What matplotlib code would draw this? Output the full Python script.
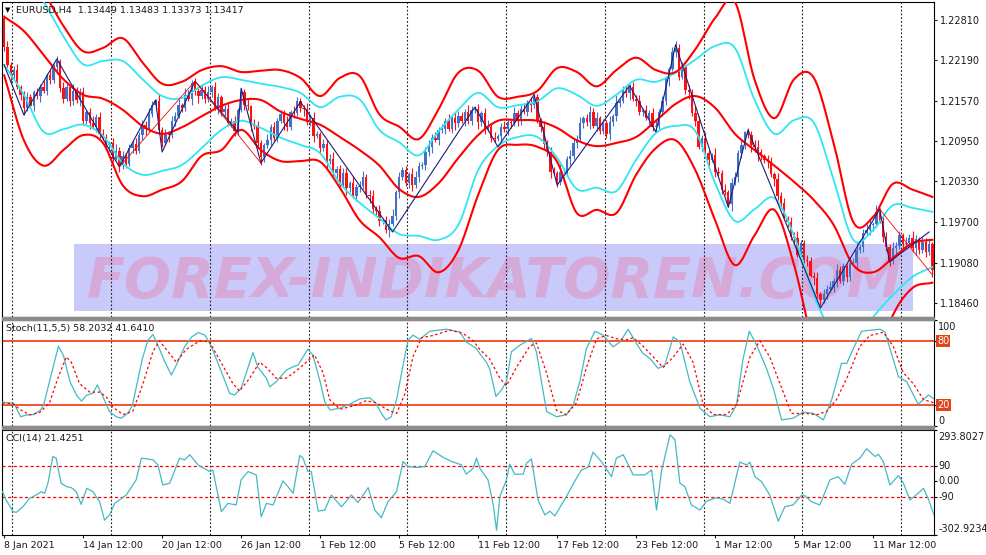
import numpy as np
import matplotlib
matplotlib.use("Agg")
import matplotlib.pyplot as plt
from matplotlib.patches import Rectangle

W, H = 987, 555

# ---- price data (EURUSD H4), closes in pips above 1.18 ----
BASE = 1.18
first_open_pips = 484
close_pips = [
    440, 412, 396, 404, 378, 366, 346, 362, 348, 370,
    364, 378, 372, 396, 388, 408, 418, 376, 360, 378,
    356, 372, 358, 370, 326, 340, 322, 316, 332, 306,
    300, 288, 292, 268, 280, 258, 272, 260, 284, 290,
    280, 304, 320, 314, 336, 350, 356, 312, 292, 306,
    304, 326, 334, 350, 346, 366, 360, 384, 372, 364,
    374, 360, 370, 378, 346, 362, 340, 344, 322, 326,
    310, 342, 370, 350, 348, 320, 318, 292, 270, 288,
    296, 316, 300, 326, 336, 322, 316, 340, 338, 356,
    346, 344, 324, 330, 302, 306, 284, 290, 264, 268,
    246, 252, 228, 246, 222, 230, 210, 224, 226, 240,
    212, 210, 190, 188, 172, 174, 158, 168, 180, 216,
    240, 250, 230, 244, 228, 240, 256, 258, 278, 286,
    300, 296, 312, 314, 326, 314, 330, 322, 334, 326,
    340, 326, 342, 344, 324, 338, 314, 316, 300, 298,
    302, 316, 314, 324, 322, 338, 326, 344, 340, 354,
    350, 362, 326, 316, 290, 278, 248, 246, 232, 248,
    248, 268, 272, 292, 298, 322, 330, 324, 340, 318,
    330, 310, 322, 306, 324, 334, 354, 356, 372, 368,
    378, 360, 356, 340, 342, 330, 338, 316, 318, 340,
    356, 390, 406, 432, 438, 394, 408, 374, 370, 338,
    326, 286, 300, 276, 266, 274, 248, 246, 220, 216,
    198, 230, 240, 276, 288, 308, 304, 288, 286, 278,
    272, 266, 262, 244, 236, 210, 200, 176, 170, 148,
    146, 120, 138, 112, 110, 88, 84, 60, 50, 60,
    68, 70, 80, 96, 80, 102, 86, 108, 108, 128,
    132, 154, 158, 166, 168, 186, 172, 148, 132, 110,
    130, 134, 150, 136, 138, 146, 130, 144, 128, 140,
    124, 136, 96]
wick_hi = [
    5, 8, 4, 7, 10, 3, 6, 9, 5, 4, 7, 5, 10, 4, 8, 6, 7, 3, 9, 5,
    4, 10, 6, 7, 8, 3, 5, 11, 4, 7, 8, 5, 3, 7, 10, 5, 8, 4, 7, 6,
    10, 4, 7, 5, 9, 6, 3, 11, 5, 8, 4, 7, 5, 9, 3, 10, 7, 5, 8, 4,
    7, 5, 10, 3, 8, 6, 4, 7, 11, 5, 8, 4, 7, 5, 10, 3, 9, 7, 5, 4,
    10, 5, 8, 4, 7, 6, 11, 3, 8, 7, 5, 4, 9, 7, 10, 5, 3, 8, 6, 7,
    10, 4, 6, 8, 7, 3, 11, 5, 7, 9, 4, 7, 10, 5, 8, 3, 6, 7, 10, 4,
    8, 5, 7, 3, 10, 9, 6, 4, 7, 11, 5, 8, 4, 7, 5, 10, 3, 9, 7, 6,
    4, 10, 7, 5, 8, 3, 7, 11, 5, 8, 4, 6, 10, 7, 3, 9, 5, 7, 10, 4,
    8, 7, 5, 4, 10, 6, 8, 7, 3, 11, 5, 4, 9, 7, 6, 10, 3, 7, 8, 5,
    10, 4, 7, 5, 9, 3, 11, 5, 7, 8, 4, 7, 6, 10, 3, 8, 5, 7, 11, 4,
    8, 5, 3, 7, 10, 6, 9, 4, 7, 5, 11, 7, 4, 8, 5, 3, 10, 7, 5, 9,
    4, 8, 7, 5, 10, 3, 7, 6, 8, 11, 5, 3, 7, 9, 4, 10, 6, 7, 3, 8,
    7, 11, 5, 4, 8, 7, 6, 10, 3, 7, 5, 9, 4, 10, 7, 5, 3, 8, 7, 11,
    4, 5, 9, 7, 3, 10, 6, 8, 7, 4, 10, 5, 7, 3, 9, 6, 11, 7, 4, 8,
    5, 7, 4]
wick_lo = [
    7, 4, 10, 5, 3, 8, 11, 5, 4, 7, 5, 9, 3, 7, 6, 4, 10, 5, 7, 3,
    8, 5, 4, 10, 7, 5, 8, 3, 7, 6, 4, 7, 9, 5, 3, 10, 6, 7, 4, 8,
    5, 3, 7, 10, 6, 4, 8, 5, 7, 3, 10, 5, 8, 4, 7, 5, 3, 9, 6, 10,
    4, 7, 5, 8, 3, 10, 6, 7, 4, 5, 8, 6, 3, 7, 5, 10, 4, 8, 12, 7,
    4, 8, 5, 7, 3, 10, 6, 4, 8, 5, 7, 10, 4, 6, 8, 3, 7, 5, 10, 4,
    5, 8, 7, 4, 10, 6, 3, 8, 7, 5, 4, 10, 6, 7, 8, 4, 5, 11, 4, 7,
    8, 5, 4, 7, 10, 5, 8, 4, 7, 6, 10, 3, 7, 5, 9, 4, 7, 10, 5, 3,
    8, 5, 7, 4, 10, 6, 8, 3, 7, 5, 3, 8, 5, 10, 7, 4, 8, 6, 3, 7,
    10, 5, 3, 8, 7, 6, 10, 4, 8, 5, 3, 7, 10, 5, 8, 4, 7, 6, 10, 3,
    8, 5, 4, 7, 10, 6, 8, 7, 3, 5, 10, 4, 8, 5, 7, 3, 10, 6, 8, 4,
    7, 5, 10, 4, 8, 6, 3, 7, 10, 5, 8, 4, 7, 5, 10, 3, 8, 5, 7, 4,
    5, 10, 3, 8, 7, 5, 4, 10, 8, 14, 7, 5, 8, 4, 10, 6, 7, 3, 8, 5,
    10, 4, 7, 5, 8, 3, 10, 6, 7, 4, 8, 5, 7, 10, 3, 6, 8, 7, 4, 10,
    5, 8, 4, 7, 10, 5, 3, 8, 6, 7, 4, 10, 5, 8, 7, 3, 6, 10, 7, 5,
    7, 4, 10]

# ---- envelope bands, one value per trading day (every 6 bars) ----
band_step = 6
upper_red = [1.2404, 1.2366, 1.2324, 1.2272, 1.2233, 1.2238, 1.2253, 1.2216, 1.2183, 1.2186,
             1.2204, 1.2210, 1.2201, 1.2203, 1.2204, 1.2192, 1.2164, 1.2192, 1.2195, 1.2136,
             1.2117, 1.2098, 1.2144, 1.2200, 1.2203, 1.2163, 1.2163, 1.2172, 1.2207, 1.2201,
             1.2179, 1.2204, 1.2223, 1.2204, 1.2201, 1.2236, 1.2284, 1.2309, 1.2189, 1.2130,
             1.2190, 1.2192, 1.2092, 1.1970, 1.1978, 1.2029, 1.2020, 1.2009]
upper_cyan = [1.2381, 1.2350, 1.2309, 1.2256, 1.2213, 1.2218, 1.2218, 1.2190, 1.2164, 1.2161,
              1.2180, 1.2193, 1.2189, 1.2183, 1.2178, 1.2169, 1.2147, 1.2163, 1.2159, 1.2112,
              1.2093, 1.2073, 1.2110, 1.2143, 1.2169, 1.2147, 1.2150, 1.2156, 1.2176, 1.2166,
              1.2149, 1.2166, 1.2189, 1.2186, 1.2200, 1.2220, 1.2241, 1.2238, 1.2158, 1.2106,
              1.2127, 1.2123, 1.2035, 1.1943, 1.1958, 1.1996, 1.1992, 1.1986]
middle_red = [1.2286, 1.2264, 1.2227, 1.2190, 1.2166, 1.2160, 1.2143, 1.2118, 1.2106, 1.2116,
              1.2133, 1.2149, 1.2158, 1.2158, 1.2140, 1.2129, 1.2120, 1.2101, 1.2081, 1.2057,
              1.2021, 1.2009, 1.2030, 1.2069, 1.2104, 1.2126, 1.2127, 1.2126, 1.2115, 1.2096,
              1.2087, 1.2092, 1.2101, 1.2126, 1.2152, 1.2164, 1.2146, 1.2106, 1.2081, 1.2057,
              1.2032, 1.2004, 1.1966, 1.1904, 1.1893, 1.1915, 1.1938, 1.1943]
lower_cyan = [1.2212, 1.2166, 1.2109, 1.2113, 1.2120, 1.2103, 1.2061, 1.2043, 1.2049, 1.2058,
              1.2084, 1.2112, 1.2126, 1.2115, 1.2100, 1.2089, 1.2076, 1.2030, 1.2000, 1.1976,
              1.1952, 1.1949, 1.1943, 1.1966, 1.2050, 1.2087, 1.2101, 1.2101, 1.2069, 1.2021,
              1.2023, 1.2018, 1.2066, 1.2107, 1.2118, 1.2110, 1.2030, 1.1972, 1.1990, 1.2007,
              1.1949, 1.1858, 1.1797, 1.1781, 1.1824, 1.1858, 1.1886, 1.1901]
lower_red = [1.2196, 1.2096, 1.2057, 1.2081, 1.2104, 1.2092, 1.2027, 1.2010, 1.2020, 1.2033,
             1.2072, 1.2081, 1.2112, 1.2081, 1.2064, 1.2064, 1.2063, 1.2023, 1.1973, 1.1947,
             1.1915, 1.1918, 1.1893, 1.1927, 1.2012, 1.2081, 1.2089, 1.2086, 1.2063, 1.1984,
             1.1989, 1.1984, 1.2043, 1.2084, 1.2096, 1.2050, 1.1973, 1.1904, 1.1950, 1.1989,
             1.1904, 1.1781, 1.1728, 1.1720, 1.1743, 1.1827, 1.1869, 1.1877]

# zigzag swing points (bar, pips above 1.18)
zz_blue = [(0, 412), (6, 335), (16, 421), (35, 255), (46, 358), (48, 278), (58, 387),
           (71, 309), (72, 376), (78, 261), (90, 355), (118, 155), (143, 347), (150, 286),
           (161, 366), (168, 227), (190, 380), (198, 309), (204, 443), (220, 193),
           (226, 312), (248, 38), (266, 190), (269, 109), (281, 155)]
zz_red = [[(35, 255), (58, 387), (78, 261)], [(266, 190), (282, 89)]]

# ---- Stochastic (11,5,5): (bar, value) ----
stoch_main = [(-0.5, 22.5), (3, 21.5), (5, 9), (7, 10.7), (9, 11), (11, 15), (12, 20), (15, 57),
              (16.5, 75), (18, 66.6), (20, 41.8), (22, 29), (23.5, 23.7), (25, 29), (27, 31),
              (28.3, 38.6), (30, 27.8), (32, 13.8), (34, 9), (35.6, 7.6), (37.6, 12.2), (39, 20),
              (42, 63.5), (43.7, 80.6), (45.2, 85.9), (46.7, 76), (48.8, 60.4), (50.8, 48),
              (52.3, 57.3), (54.8, 74.4), (57, 83.7), (59, 87.8), (61, 85.3), (63, 74.4),
              (66, 51), (68.5, 30.9), (70, 29.3), (72, 35.5), (75.6, 69), (77, 55.7),
              (79.7, 44.9), (80.7, 37), (82.7, 41.8), (85.7, 52.6), (87.8, 55.7), (89.3, 57.3),
              (90.8, 65), (92.3, 72.2), (93.8, 66.6), (96, 41.8), (97.4, 23), (99, 15.3),
              (102, 16.9), (105.5, 21.5), (108, 25.6), (111, 26.8), (113, 21.5), (114.6, 12.2),
              (116, 6), (117.6, 9), (119.2, 24.7), (121.2, 57.3), (122.7, 80.6), (124.2, 85.3),
              (126.3, 81.5), (129.3, 89), (134.4, 90.9), (138.4, 88.4), (140.4, 79),
              (143.5, 72.8), (144.5, 68), (146.5, 60), (147.5, 54), (149.4, 28), (151.1, 34),
              (152.6, 41.8), (154.1, 69.7), (156.7, 76), (160.2, 82.2), (161.7, 69.7),
              (164.8, 13.8), (167.8, 9), (170.8, 10.7), (172.9, 20), (174.9, 41.8),
              (176.9, 72.8), (179.5, 89), (182, 85.3), (185, 74.4), (187.1, 79), (189.6, 90.9),
              (192.1, 77.5), (194.1, 68.2), (196.2, 63.5), (198.7, 54.2), (200.7, 57.3),
              (203.3, 83.7), (205.3, 79), (208.3, 41.8), (211.4, 16.9), (214.4, 9),
              (217.4, 10.7), (220.5, 9), (222.5, 20), (224.5, 63.5), (226.4, 89), (228.6, 76),
              (231.6, 54.2), (233.7, 35.5), (236.2, 6), (239.7, 7.6), (242.8, 13.2),
              (245.8, 12.2), (248.9, 6), (251.4, 24.7), (254.4, 58.9), (256, 58.9),
              (258, 72.8), (260.5, 89), (263, 89.9), (266.1, 90.9), (267.6, 88.4),
              (271.7, 46.4), (274.2, 41.8), (277.7, 20.6), (280.8, 29.3), (282.5, 25.6)]
stoch_signal = [(-0.5, 22), (2.7, 21), (4.7, 16), (7.7, 10.7), (10.8, 13), (13.8, 22), (16.3, 45),
                (18.9, 65), (20.4, 60), (22.9, 40), (26, 32), (29, 32), (31, 27.8), (33, 18),
                (36.1, 11), (39.1, 14), (42.2, 40), (45.2, 70), (47.2, 80), (50.3, 68),
                (52.3, 60), (55.3, 72), (59.4, 80), (62.4, 79), (65.5, 62), (69.5, 40),
                (71.5, 33), (74.6, 45), (77.6, 60), (79.7, 55), (82.7, 45), (85.7, 45),
                (88.8, 52), (91.8, 60), (94.3, 67), (96.9, 50), (98.9, 25), (102, 16),
                (106, 19), (110, 24), (113.1, 22), (116.1, 16), (119.2, 12), (121.7, 30),
                (124.2, 65), (126.8, 83), (130.3, 85), (135.4, 90), (139.4, 87), (142.5, 80),
                (144.5, 72), (147.5, 63), (150.6, 45), (152.6, 38), (155.6, 55), (159.7, 75),
                (161.7, 78), (164.8, 50), (167.8, 15), (170.8, 11), (173.9, 22), (176.9, 55),
                (180, 82), (183, 85), (186, 82), (189.1, 81), (191.1, 83), (194.1, 75),
                (197.2, 65), (200.2, 55), (203.3, 65), (206.3, 77), (209.3, 60), (212.4, 20),
                (215.4, 11), (219.5, 11), (222.5, 20), (226.6, 65), (229.6, 80), (232.6, 65),
                (235.7, 40), (239.2, 12), (243.8, 12), (246.8, 10.7), (249.9, 14), (252.9, 25),
                (256, 45), (260, 75), (263, 85), (267.1, 88), (270.1, 75), (273.2, 50),
                (276.2, 40), (279.3, 25), (282.5, 22)]

# ---- CCI(14): (bar, value) ----
cci = [(-0.5, -58), (0.6, -105), (2.7, -171), (3.7, -175), (5.7, -143), (7.7, -96), (9.7, -77),
       (11.3, -58), (12.3, -67), (13.3, -10), (14.8, 141), (15.8, 132), (17.3, -10), (18.9, -29),
       (20.4, -35), (21.9, -58), (23.4, -130), (25.1, -39), (27, -58), (29, -115), (30.5, -219),
       (32, -190), (33.6, -124), (37.1, -77), (40.1, 9), (41.7, 132), (45.2, 122), (46.7, 94),
       (48.2, -20), (50.3, -10), (53.3, 132), (54.8, 122), (56.4, 151), (58.9, 94), (62.4, 56),
       (63.4, 65), (66, -171), (68, -124), (70.5, -133), (72, 9), (74.1, 56), (76.6, 37),
       (78.1, -200), (79.7, -124), (81.7, -133), (84.7, 3), (86.2, -29), (87.8, -67),
       (89.8, 147), (90.8, 132), (92.3, 56), (93.3, 56), (95.4, -168), (97.4, -162),
       (99.4, -77), (102.5, -143), (105.5, -77), (107.5, -119), (110.6, -35), (112.6, -162),
       (114.6, -205), (116.6, -115), (119.2, -58), (121.2, 113), (122.7, 84), (125.3, 79),
       (127.8, 84), (130.3, 173), (133.4, 136), (135.9, 113), (138.9, 94), (140.4, 41),
       (142.5, 75), (143.5, 132), (144.5, 75), (147, 9), (148.6, -133), (149.6, -276),
       (150.6, -86), (152.6, 9), (153.6, 98), (155.1, 41), (157.7, 41), (158.7, 103),
       (160.2, 128), (162.2, -105), (164.3, -190), (165.8, -168), (167.3, -195), (170.8, -86),
       (173.4, 3), (175.4, 65), (177.4, 80), (178.9, 166), (181, 122), (182.5, 84), (184.5, 27),
       (186, 132), (188.1, 151), (191.1, 37), (194.7, 37), (196.7, 65), (198.2, -162),
       (199.7, 56), (202.3, 264), (203.8, 236), (205.3, -10), (206.8, -29), (208.8, -133),
       (211.4, -162), (213.4, -111), (216.4, -92), (218.5, -100), (220.5, -124), (223.5, 109),
       (225.6, 94), (226.6, 109), (228.1, 27), (230.1, -1), (232.6, -77), (235.2, -225),
       (237.2, -143), (239.7, -133), (242.3, -77), (243.3, -81), (245.3, -115), (247.8, -133),
       (250.9, 9), (253.4, 27), (255.4, -16), (257.5, 98), (260, 132), (262, 185), (264.6, 141),
       (265.6, 154), (267.1, 113), (269.1, -20), (271.7, 33), (273.2, -10), (275.2, -105),
       (277.7, -67), (279.3, -39), (280.8, -100), (282.5, -190)]
cci_max, cci_min = 293.8027, -302.9234

price_ticks = [1.22810, 1.22190, 1.21570, 1.20950, 1.20330, 1.19700, 1.19080, 1.18460]
date_labels = ['8 Jan 2021', '14 Jan 12:00', '20 Jan 12:00', '26 Jan 12:00', '1 Feb 12:00',
               '5 Feb 12:00', '11 Feb 12:00', '17 Feb 12:00', '23 Feb 12:00', '1 Mar 12:00',
               '5 Mar 12:00', '11 Mar 12:00']
bars_per_label = 24
grid_bars = [2.5, 32.5, 62.5, 92.5, 122.5, 152.5, 182.5, 212.5, 242.5, 272.5]

# ---- colours ----
BULL = '#4272c8'
BEAR = '#ff1010'
RED = '#ff0000'
CYAN = '#2fe6f2'
TEAL = '#45b9c3'
LEVEL = '#f0461a'
TXT = '#1a1a1a'

plt.rcParams['font.family'] = ['DejaVu Sans']
fig = plt.figure(figsize=(W / 100, H / 100), dpi=100)
fig.patch.set_facecolor('white')


def px_axes(top, bottom, left=2.5, right=934):
    return fig.add_axes([left / W, 1 - bottom / H, (right - left) / W, (bottom - top) / H])


def fig_text(x, y, s, **kw):
    return fig.text(x / W, 1 - y / H, s, **kw)


def smooth_path(xs, ys, k=12):
    # Catmull-Rom curve through the given points, only for drawing
    P = np.column_stack([np.asarray(xs, float), np.asarray(ys, float)])
    P = np.vstack([2 * P[0] - P[1], P, 2 * P[-1] - P[-2]])
    t = np.linspace(0, 1, k, endpoint=False)[:, None]
    out = []
    for i in range(1, len(P) - 2):
        p0, p1, p2, p3 = P[i - 1], P[i], P[i + 1], P[i + 2]
        out.append(0.5 * (2 * p1 + (p2 - p0) * t + (2 * p0 - 5 * p1 + 4 * p2 - p3) * t ** 2
                          + (3 * p1 - p0 - 3 * p2 + p3) * t ** 3))
    out.append(P[-2][None])
    out = np.vstack(out)
    return out[:, 0], out[:, 1]


ax_p = px_axes(2, 316.5)
ax_s = px_axes(319.5, 426.3)
ax_c = px_axes(429.5, 535)

n = len(close_pips)
for ax in (ax_p, ax_s, ax_c):
    ax.set_xlim(-0.5, n - 0.5)
    for sp in ax.spines.values():
        sp.set_color('black')
        sp.set_linewidth(0.8)
    for g in grid_bars:
        ax.axvline(g, color='#222222', lw=0.8, ls=(0, (1.6, 1.8)), zorder=1.5)
    ax.tick_params(bottom=False, labelbottom=False, left=False, labelleft=False)

# separators between panels
for y0 in (316.5, 426.3):
    fig.patches.append(Rectangle((2.5 / W, 1 - (y0 + 3) / H), (934 - 2.5) / W, 3 / H,
                                 transform=fig.transFigure, color='#8c8c8c', zorder=5))

# ---- price panel ----
ax_p.set_ylim(1.18250, 1.23087)
close = BASE + np.array(close_pips) / 1e4
opens = np.r_[BASE + first_open_pips / 1e4, close[:-1]]
hi = np.maximum(opens, close) + np.array(wick_hi[:n]) / 1e4
lo = np.minimum(opens, close) - np.array(wick_lo[:n]) / 1e4
bars = np.arange(n)
cols = np.where(close >= opens, BULL, BEAR)
ax_p.vlines(bars, lo, hi, colors=cols, lw=0.8, zorder=2)
ax_p.bar(bars, close - opens, bottom=opens, width=0.72, color=cols, lw=0, zorder=2.1)

band_x = np.arange(len(upper_red)) * band_step
for vals, c, lw in ((upper_cyan, CYAN, 1.3), (lower_cyan, CYAN, 1.3),
                    (upper_red, RED, 1.5), (lower_red, RED, 1.5), (middle_red, RED, 1.5)):
    sx, sy = smooth_path(band_x, vals)
    ax_p.plot(sx, sy, color=c, lw=lw, zorder=3, solid_joinstyle='round')

zb, zp = zip(*zz_blue)
ax_p.plot(zb, BASE + np.array(zp) / 1e4, color='#1c1c7a', lw=0.8, zorder=4)
for seg in zz_red:
    rb, rp = zip(*seg)
    ax_p.plot(rb, BASE + np.array(rp) / 1e4, color=RED, lw=0.6, zorder=4)

ax_p.yaxis.tick_right()
ax_p.set_yticks(price_ticks)
ax_p.set_yticklabels([f'{v:.5f}' for v in price_ticks])
ax_p.tick_params(axis='y', right=True, labelright=True, length=2.5, width=0.8, pad=1.5,
                 labelsize=7, colors=TXT)

# watermark
ax_p.add_patch(Rectangle((74 / W, 1 - 311 / H), (913 - 74) / W, (311 - 244) / H,
                         transform=fig.transFigure, color='#c9c9fa', zorder=1, lw=0))
ax_p.text(495 / W, 1 - 297 / H, 'FOREX-INDIKATOREN.COM', transform=fig.transFigure,
          fontsize=40, fontweight='bold', fontstyle='italic', color='#d6aad8',
          ha='center', va='baseline', zorder=1.1)

fig_text(8, 10, '\u25bc', fontsize=5, color='black', ha='center', va='center')
fig_text(16, 10, 'EURUSD,H4  1.13449 1.13483 1.13373 1.13417', fontsize=6.8,
         color=TXT, ha='left', va='center')

# ---- stochastic panel ----
ax_s.set_ylim(0, 100)
sb, sv = zip(*stoch_main)
gb, gv = zip(*stoch_signal)
ax_s.plot(sb, sv, color=TEAL, lw=0.9, zorder=3)
ax_s.plot(gb, gv, color=RED, lw=0.9, ls=(0, (2, 2)), zorder=3)
for lvl in (20, 80):
    ax_s.axhline(lvl, color=LEVEL, lw=1.3, zorder=2)
ax_s.yaxis.tick_right()
ax_s.set_yticks([0, 20, 80, 100])
ax_s.tick_params(axis='y', right=True, labelright=False, length=2.5, width=0.8)
lab = dict(xycoords=('axes fraction', 'data'), textcoords='offset points',
           fontsize=7, ha='left', color=TXT)
ax_s.annotate('100', xy=(1, 100), xytext=(3, -1.5), va='top', **lab)
ax_s.annotate('0', xy=(1, 0), xytext=(3, 0.5), va='bottom', **lab)
for lvl in (80, 20):
    ax_s.annotate(str(lvl), xy=(1, lvl), xycoords=('axes fraction', 'data'),
                  xytext=(2.2, 0), textcoords='offset points', fontsize=7, ha='left',
                  va='center', color='white',
                  bbox=dict(boxstyle='square,pad=0.12', fc='#e04418', ec='none'))
fig_text(6, 329, 'Stoch(11,5,5) 58.2032 41.6410', fontsize=6.8, color=TXT,
         ha='left', va='center')

# ---- CCI panel ----
ax_c.set_ylim(cci_min, cci_max)
cb, cv = zip(*cci)
ax_c.plot(cb, cv, color=TEAL, lw=0.9, zorder=3)
for lvl in (90, -90):
    ax_c.axhline(lvl, color=RED, lw=0.9, ls=(0, (2.5, 2)), zorder=2)
ax_c.yaxis.tick_right()
ax_c.set_yticks([cci_min, -90, 0, 90, cci_max])
ax_c.tick_params(axis='y', right=True, labelright=False, length=2.5, width=0.8)
ax_c.annotate(f'{cci_max:.4f}', xy=(1, cci_max), xytext=(3, -1.5), va='top', **lab)
ax_c.annotate(f'{cci_min:.4f}', xy=(1, cci_min), xytext=(3, 0.5), va='bottom', **lab)
for lvl, s in ((90, '90'), (0, '0.00'), (-90, '-90')):
    ax_c.annotate(s, xy=(1, lvl), xytext=(3, 0), va='center', **lab)
fig_text(6, 439, 'CCI(14) 21.4251', fontsize=6.8, color=TXT, ha='left', va='center')

label_bars = [k * bars_per_label for k in range(len(date_labels))]
ax_c.set_xticks(label_bars)
ax_c.set_xticklabels(date_labels, ha='left')
ax_c.tick_params(axis='x', bottom=True, labelbottom=True, length=2.5, width=0.8, pad=2,
                 labelsize=6.8, colors=TXT)

fig.savefig('out.png', dpi=100, facecolor='white')
